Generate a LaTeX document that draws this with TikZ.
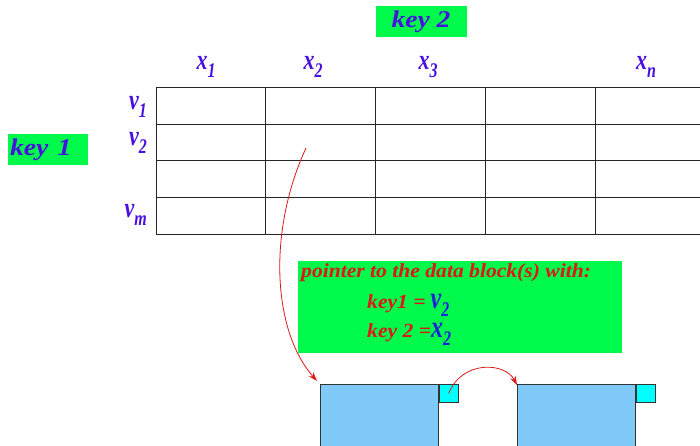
\documentclass[tikz,border=0pt]{standalone}
\usepackage{fontspec}
\setmainfont{Liberation Serif}
\usepackage{xcolor}
\usepackage{graphicx}
\usetikzlibrary{arrows.meta, positioning, calc}
\definecolor{keygreen}{RGB}{0,250,76}
\definecolor{labblue}{RGB}{72,16,224}
\definecolor{valblue}{RGB}{32,32,220}
\definecolor{ptrred}{RGB}{220,24,24}
\definecolor{blockblue}{RGB}{128,202,250}
\definecolor{tagcyan}{RGB}{0,255,255}
% tall label: letter with a low subscript
\newcommand\tallidx[2]{\scalebox{1}[1.3]{#1\raisebox{-0.55ex}{\fontsize{16}{18}\selectfont #2}}}
\tikzset{
  gridline/.style={black!85, line width=1pt},
  keybox/.style={fill=keygreen, inner sep=0pt, minimum height=31pt, font=\fontsize{24}{26}\selectfont\bfseries\itshape, text=labblue},
  keylab/.style={inner sep=0pt, font=\fontsize{22}{24}\selectfont\bfseries\itshape, text=labblue},
  ptrtext/.style={inner sep=0pt, font=\fontsize{20}{22}\selectfont\bfseries\itshape, text=ptrred},
  block/.style={draw=black!80, fill=blockblue, line width=0.8pt, inner sep=0pt, minimum width=118pt, minimum height=92pt},
  tag/.style={draw=black!80, fill=tagcyan, line width=0.8pt, inner sep=0pt, minimum width=19pt, minimum height=18pt},
  link/.style={-{Stealth[length=9pt,width=6pt]}, ptrred, line width=0.8pt}
}
\begin{document}
\begin{tikzpicture}[x=1pt, y=-1pt]
  \useasboundingbox (0,0) rectangle (700,446);
  % Index table
  \foreach \y in {88,125,161,198,234}
    \draw[gridline] (156,\y) -- (702,\y);
  \foreach \x in {156,265,375,485,595}
    \draw[gridline] (\x,88) -- (\x,234);
  % Keys
  \node[keybox, minimum width=91pt] (key2) at (421,22) {\scalebox{1.15}[1]{key 2}};
  \node[keybox, minimum width=80pt, text width=76pt, align=left] (key1) at (48,150) {\scalebox{1.15}[1]{key 1}};
  % Column and row labels
  \foreach \lab/\x in {1/206, 2/313, 3/428, n/646}
    \node[keylab] (x\lab) at (\x,67) {\tallidx{x}{\lab}};
  \foreach \lab/\y in {1/107, 2/143, m/215}
    \node[keylab, anchor=east] (v\lab) at (147,\y) {\tallidx{v}{\lab}};
  % Pointer box
  \node[fill=keygreen, minimum width=324pt, minimum height=92pt, inner sep=0pt] (ptr) at (460,307) {};
  \node[ptrtext, anchor=west] (ptrhead) at (301,273) {\scalebox{1.08}[1]{pointer to the data block(s) with:}};
  \node[ptrtext, anchor=west] (ptrkey1) at (367,305) {\scalebox{1.08}[1]{key1 =} \textcolor{valblue}{\fontsize{24}{26}\selectfont\tallidx{v}{2}}};
  \node[ptrtext, anchor=west] (ptrkey2) at (367,334) {\scalebox{1.08}[1]{key 2 =}\textcolor{valblue}{\fontsize{24}{26}\selectfont\tallidx{x}{2}}};
  % Data blocks
  \node[block, anchor=north west] (blk1) at (320,384) {};
  \node[tag, anchor=north west] (tag1) at (blk1.north east) {};
  \node[block, anchor=north west] (blk2) at (517,384) {};
  \node[tag, anchor=north west] (tag2) at (blk2.north east) {};
  % Pointers
  \coordinate (cell) at (306,148);
  \draw[link] (cell) .. controls (268,230) and (272,330) .. ($(blk1.north west)+(-3,-3)$);
  \draw[link] (tag1.center) .. controls (462,360) and (505,362) .. ($(blk2.north west)+(0,1)$);
\end{tikzpicture}
\end{document}
